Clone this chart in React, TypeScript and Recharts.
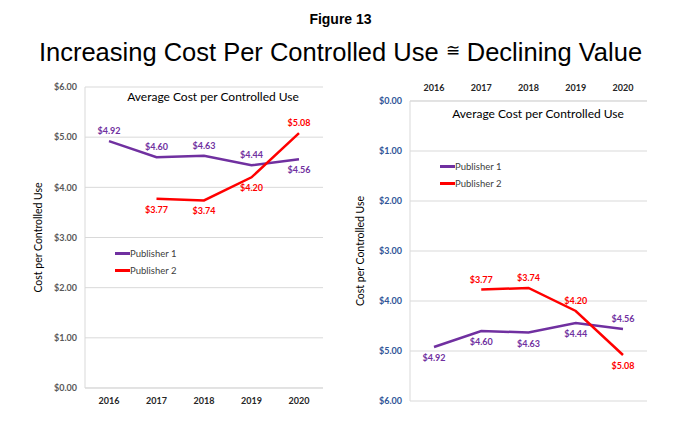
import React from 'react';
import { LineChart, Line, XAxis, YAxis, CartesianGrid, LabelList } from 'recharts';

const years = ['2016', '2017', '2018', '2019', '2020'];
const publisher1 = [4.92, 4.6, 4.63, 4.44, 4.56];
const publisher2: (number | null)[] = [null, 3.77, 3.74, 4.2, 5.08];
const costTicks = [0, 1, 2, 3, 4, 5, 6];
const seriesNames = ['Publisher 1', 'Publisher 2'];

// which side of the point each value label goes on (left chart; right chart is flipped)
const p1Above = [true, true, true, true, false];
const p2Above = [false, false, false, false, true];

const PURPLE = '#7030a0';
const RED = '#ff0000';
const FONT = 'Lato, "Open Sans", sans-serif';

const data = years.map((year, i) => ({ year, p1: publisher1[i], p2: publisher2[i] }));

const money = (v: number) => `$${v.toFixed(2)}`;

const makeLabel = (above: boolean[], color: string, flip: boolean) => (props: any) => {
    const { x, y, value, index } = props;
    if (value == null) return null;
    const up = flip ? !above[index] : above[index];
    return (
        <text
            x={x}
            y={up ? y - 7 : y + 14}
            textAnchor="middle"
            fill={color}
            fontSize={9}
            fontWeight="bold"
            fontFamily={FONT}
        >
            {money(value)}
        </text>
    );
};

const LegendBox: React.FC<{ left: number; top: number }> = ({ left, top }) => (
    <div
        style={{
            position: 'absolute',
            left,
            top,
            fontFamily: FONT,
            fontSize: 9.5,
            color: '#404040',
            lineHeight: '17px',
        }}
    >
        {seriesNames.map((name, i) => (
            <div key={name} style={{ display: 'flex', alignItems: 'center' }}>
                <span
                    style={{ display: 'inline-block', width: 15, height: 2.5, background: i === 0 ? PURPLE : RED }}
                />
                <span>{name}</span>
            </div>
        ))}
    </div>
);

const yLabel = (offset: number) => ({
    value: 'Cost per Controlled Use',
    angle: -90,
    position: 'insideLeft' as const,
    offset,
    style: { textAnchor: 'middle', fontFamily: FONT, fontSize: 10.5, fill: '#000' },
});

const chartTitle: React.CSSProperties = {
    position: 'absolute',
    fontFamily: FONT,
    fontSize: 12,
    color: '#000',
    whiteSpace: 'nowrap',
    transform: 'translateX(-50%)',
};

const xPad = { left: 24, right: 24 };

export default function App() {
    return (
        <div style={{ position: 'absolute', left: 0, top: 0, width: 681, height: 439, background: '#fff' }}>
            <div
                style={{
                    position: 'absolute',
                    top: 11,
                    width: 681,
                    textAlign: 'center',
                    fontFamily: 'Arial, "Liberation Sans", sans-serif',
                    fontWeight: 'bold',
                    fontSize: 14,
                }}
            >
                Figure 13
            </div>
            <div
                style={{
                    position: 'absolute',
                    top: 38,
                    width: 681,
                    textAlign: 'center',
                    fontFamily: 'Arial, "Liberation Sans", sans-serif',
                    fontSize: 25.5,
                }}
            >
                Increasing Cost Per Controlled Use{' '}
                <span style={{ fontSize: 17, verticalAlign: 5 }}>≅</span> Declining Value
            </div>

            {/* left chart */}
            <div style={{ position: 'absolute', left: 0, top: 70 }}>
                <LineChart width={335} height={350} data={data} margin={{ top: 17, right: 12, left: 0, bottom: 0 }}>
                    <CartesianGrid vertical={false} stroke="#d9d9d9" />
                    <XAxis
                        dataKey="year"
                        height={32}
                        padding={xPad}
                        tickLine={false}
                        axisLine={{ stroke: '#d9d9d9' }}
                        tick={{ fill: '#262626', fontSize: 9, fontWeight: 'bold', fontFamily: FONT }}
                        tickMargin={4}
                    />
                    <YAxis
                        width={85}
                        domain={[0, 6]}
                        ticks={costTicks}
                        tickFormatter={money}
                        tickLine={false}
                        axisLine={{ stroke: '#d9d9d9' }}
                        tick={{ fill: '#595959', fontSize: 9, fontWeight: 'bold', fontFamily: FONT }}
                        label={yLabel(38)}
                    />
                    <Line
                        dataKey="p1"
                        name={seriesNames[0]}
                        stroke={PURPLE}
                        strokeWidth={2.5}
                        dot={false}
                        isAnimationActive={false}
                    >
                        <LabelList dataKey="p1" content={makeLabel(p1Above, PURPLE, false)} />
                    </Line>
                    <Line
                        dataKey="p2"
                        name={seriesNames[1]}
                        stroke={RED}
                        strokeWidth={2.5}
                        dot={false}
                        isAnimationActive={false}
                    >
                        <LabelList dataKey="p2" content={makeLabel(p2Above, RED, false)} />
                    </Line>
                </LineChart>
            </div>
            <div style={{ ...chartTitle, left: 213, top: 89 }}>Average Cost per Controlled Use</div>
            <LegendBox left={115} top={245} />

            {/* right chart, reversed axis */}
            <div style={{ position: 'absolute', left: 325, top: 70 }}>
                <LineChart width={335} height={340} data={data} margin={{ top: 6, right: 13, left: 0, bottom: 9 }}>
                    <CartesianGrid vertical={false} stroke="#d9d9d9" />
                    <XAxis
                        dataKey="year"
                        orientation="top"
                        height={25}
                        padding={xPad}
                        tickLine={false}
                        axisLine={{ stroke: '#d9d9d9' }}
                        tick={{ fill: '#262626', fontSize: 9, fontWeight: 'bold', fontFamily: FONT }}
                        tickMargin={4}
                    />
                    <YAxis
                        width={85}
                        domain={[0, 6]}
                        ticks={costTicks}
                        reversed
                        tickFormatter={money}
                        tickLine={false}
                        axisLine={{ stroke: '#d9d9d9' }}
                        tick={{ fill: '#2f5597', fontSize: 9, fontWeight: 'bold', fontFamily: FONT }}
                        label={yLabel(35)}
                    />
                    <Line
                        dataKey="p1"
                        name={seriesNames[0]}
                        stroke={PURPLE}
                        strokeWidth={2.5}
                        dot={false}
                        isAnimationActive={false}
                    >
                        <LabelList dataKey="p1" content={makeLabel(p1Above, PURPLE, true)} />
                    </Line>
                    <Line
                        dataKey="p2"
                        name={seriesNames[1]}
                        stroke={RED}
                        strokeWidth={2.5}
                        dot={false}
                        isAnimationActive={false}
                    >
                        <LabelList dataKey="p2" content={makeLabel(p2Above, RED, true)} />
                    </Line>
                </LineChart>
            </div>
            <div style={{ ...chartTitle, left: 538, top: 106 }}>Average Cost per Controlled Use</div>
            <LegendBox left={440} top={158} />
        </div>
    );
}
